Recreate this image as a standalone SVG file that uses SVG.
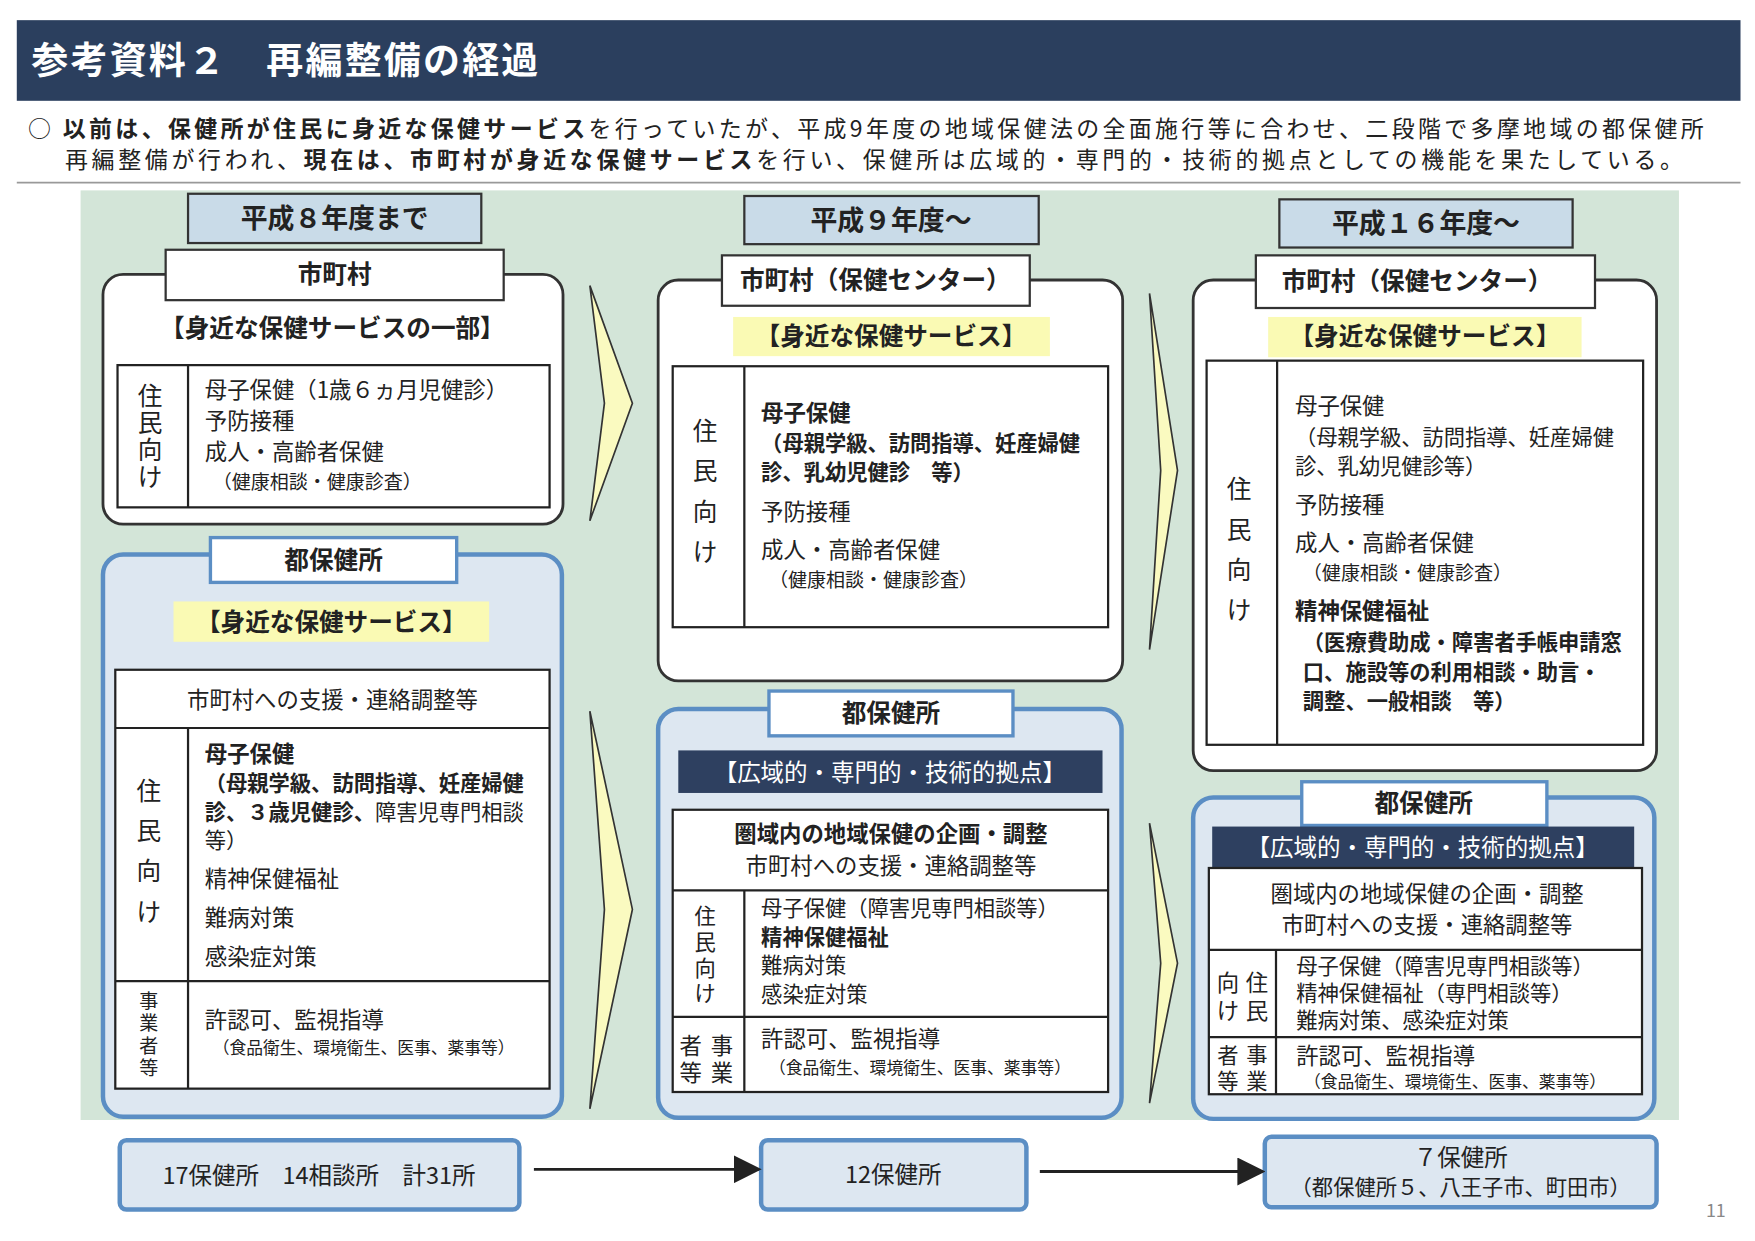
<svg xmlns="http://www.w3.org/2000/svg" width="1755" height="1241" viewBox="0 0 1755 1241">
<style>
text{font-family:"Noto Sans CJK JP","Noto Sans CJK SC",sans-serif;fill:#222}
.b{font-weight:bold}
.t{font-size:22px}
.s{font-size:15px}
.title{fill:#c9dbe8;stroke:#333;stroke-width:2}
.wbox{fill:#fff;stroke:#333;stroke-width:2.5}
.bbox{fill:#dde7f1;stroke:#5b8ec4;stroke-width:4}
.tab{fill:#fff;stroke:#333;stroke-width:2}
.btab{fill:#fff;stroke:#5b8ec4;stroke-width:3}
.tbl{fill:#fff;stroke:#222;stroke-width:2}
.ln{stroke:#222;stroke-width:2}
.yel{fill:#fafab4}
.dark{fill:#2e4060}
.chev{fill:#fafac0;stroke:#333;stroke-width:1.5}
.foot{fill:#dde7f1;stroke:#5b8ec4;stroke-width:4}
</style>
<defs><marker id="ah" markerWidth="10" markerHeight="10" refX="9" refY="5" orient="auto"><path d="M0,0 L10,5 L0,10z" fill="#222"/></marker></defs>
<rect width="1755" height="1241" fill="#fff"/>
<g transform="scale(1.1193,1.12)">
<g id="header">
<rect x="15" y="18" width="1540" height="72" fill="#2b3f5e"/>
<text x="28" y="66" font-size="33" letter-spacing="2" class="b" style="fill:#fff">参考資料２　再編整備の経過</text>
<text x="25" y="122" font-size="20.5" letter-spacing="3">○ <tspan class="b">以前は、保健所が住民に身近な保健サービス</tspan>を行っていたが、平成9年度の地域保健法の全面施行等に合わせ、二段階で多摩地域の都保健所</text>
<text x="58" y="150" font-size="20.5" letter-spacing="3.3">再編整備が行われ、<tspan class="b">現在は、市町村が身近な保健サービス</tspan>を行い、保健所は広域的・専門的・技術的拠点としての機能を果たしている。</text>
<line x1="15" y1="163" x2="1555" y2="163" stroke="#999" stroke-width="1.5"/>
</g>
<rect x="72" y="170" width="1428" height="830" fill="#d3e5d8"/>

<g id="arrows">
<path class="chev" d="M527,255 L565,360 L527,465 L540,360z"/>
<path class="chev" d="M527,635 L565,812 L527,990 L540,812z"/>
<path class="chev" d="M1027,262 L1052,420 L1027,580 L1037,420z"/>
<path class="chev" d="M1027,735 L1052,860 L1027,985 L1037,860z"/>
</g>

<g id="c1title"><rect class="title" x="168" y="173" width="262" height="44"/><text x="299" y="204" text-anchor="middle" font-size="24" class="b">平成８年度まで</text></g>
<g id="c1city">
<rect class="wbox" x="92" y="245" width="411" height="223" rx="18"/>
<rect class="tab" x="148" y="223" width="302" height="45"/><text x="299" y="253" text-anchor="middle" class="t b">市町村</text>
<text x="297" y="301" text-anchor="middle" class="t b">【身近な保健サービスの一部】</text>
<rect class="tbl" x="105" y="326" width="386" height="127"/><line class="ln" x1="168" y1="326" x2="168" y2="453"/>
<text x="134" y="362" text-anchor="middle" class="t">住</text><text x="134" y="386" text-anchor="middle" class="t">民</text><text x="134" y="410" text-anchor="middle" class="t">向</text><text x="134" y="434" text-anchor="middle" class="t">け</text>
<text x="183" y="355" font-size="20">母子保健（1歳６ヵ月児健診）</text>
<text x="183" y="383" font-size="20">予防接種</text>
<text x="183" y="411" font-size="20">成人・高齢者保健</text>
<text x="190" y="437" font-size="17">（健康相談・健康診査）</text>
</g>
<g id="c1pref">
<rect class="bbox" x="92" y="495" width="410" height="502" rx="18"/>
<rect class="btab" x="188" y="480" width="220" height="40"/><text x="298" y="508" text-anchor="middle" class="t b">都保健所</text>
<rect class="yel" x="155" y="537" width="282" height="36"/><text x="296" y="563" text-anchor="middle" class="t b">【身近な保健サービス】</text>
<rect class="tbl" x="103" y="598" width="388" height="374"/>
<line class="ln" x1="103" y1="650" x2="491" y2="650"/><line class="ln" x1="103" y1="876" x2="491" y2="876"/><line class="ln" x1="168" y1="650" x2="168" y2="972"/>
<text x="297" y="632" text-anchor="middle" font-size="20">市町村への支援・連絡調整等</text>
<text x="133" y="714" text-anchor="middle" class="t">住</text><text x="133" y="750" text-anchor="middle" class="t">民</text><text x="133" y="786" text-anchor="middle" class="t">向</text><text x="133" y="822" text-anchor="middle" class="t">け</text>
<text x="183" y="680" font-size="20" class="b">母子保健</text>
<text x="183" y="706" font-size="19"><tspan class="b">（母親学級、訪問指導、妊産婦健</tspan></text>
<text x="183" y="732" font-size="19"><tspan class="b">診、３歳児健診、</tspan>障害児専門相談</text>
<text x="183" y="757" font-size="19">等）</text>
<text x="183" y="792" font-size="20">精神保健福祉</text>
<text x="183" y="827" font-size="20">難病対策</text>
<text x="183" y="862" font-size="20">感染症対策</text>
<text x="133" y="900" text-anchor="middle" font-size="17">事</text><text x="133" y="920" text-anchor="middle" font-size="17">業</text><text x="133" y="940" text-anchor="middle" font-size="17">者</text><text x="133" y="960" text-anchor="middle" font-size="17">等</text>
<text x="183" y="918" font-size="20">許認可、監視指導</text>
<text x="190" y="941" class="s">（食品衛生、環境衛生、医事、薬事等）</text>
</g>

<g id="c2title"><rect class="title" x="665" y="175" width="263" height="43"/><text x="796" y="205" text-anchor="middle" font-size="24" class="b">平成９年度～</text></g>
<g id="c2city">
<rect class="wbox" x="588" y="250" width="415" height="358" rx="18"/>
<rect class="tab" x="645" y="228" width="275" height="45"/><text x="782" y="258" text-anchor="middle" class="t b">市町村（保健センター）</text>
<rect class="yel" x="655" y="283" width="283" height="35"/><text x="796" y="308" text-anchor="middle" class="t b">【身近な保健サービス】</text>
<rect class="tbl" x="601" y="327" width="389" height="233"/><line class="ln" x1="665" y1="327" x2="665" y2="560"/>
<text x="630" y="393" text-anchor="middle" class="t">住</text><text x="630" y="429" text-anchor="middle" class="t">民</text><text x="630" y="465" text-anchor="middle" class="t">向</text><text x="630" y="501" text-anchor="middle" class="t">け</text>
<text x="680" y="376" font-size="20" class="b">母子保健</text>
<text x="680" y="403" font-size="19" class="b">（母親学級、訪問指導、妊産婦健</text>
<text x="680" y="429" font-size="19" class="b">診、乳幼児健診　等）</text>
<text x="680" y="464" font-size="20">予防接種</text>
<text x="680" y="498" font-size="20">成人・高齢者保健</text>
<text x="687" y="524" font-size="17">（健康相談・健康診査）</text>
</g>
<g id="c2pref">
<rect class="bbox" x="588" y="633" width="414" height="365" rx="18"/>
<rect class="btab" x="687" y="617" width="218" height="40"/><text x="796" y="645" text-anchor="middle" class="t b">都保健所</text>
<rect class="dark" x="606" y="670" width="379" height="38"/><text x="795" y="697" text-anchor="middle" font-size="21" style="fill:#fff">【広域的・専門的・技術的拠点】</text>
<rect class="tbl" x="601" y="723" width="389" height="252"/>
<line class="ln" x1="601" y1="795" x2="990" y2="795"/><line class="ln" x1="601" y1="908" x2="990" y2="908"/><line class="ln" x1="665" y1="795" x2="665" y2="975"/>
<text x="796" y="752" text-anchor="middle" font-size="20" class="b">圏域内の地域保健の企画・調整</text>
<text x="796" y="780" text-anchor="middle" font-size="20">市町村への支援・連絡調整等</text>
<text x="630" y="825" text-anchor="middle" font-size="19">住</text><text x="630" y="848" text-anchor="middle" font-size="19">民</text><text x="630" y="871" text-anchor="middle" font-size="19">向</text><text x="630" y="894" text-anchor="middle" font-size="19">け</text>
<text x="680" y="818" font-size="19">母子保健（障害児専門相談等）</text>
<text x="680" y="844" font-size="19" class="b">精神保健福祉</text>
<text x="680" y="869" font-size="19">難病対策</text>
<text x="680" y="895" font-size="19">感染症対策</text>
<text x="645" y="941" text-anchor="middle" font-size="20">事</text><text x="617" y="941" text-anchor="middle" font-size="20">者</text>
<text x="645" y="965" text-anchor="middle" font-size="20">業</text><text x="617" y="965" text-anchor="middle" font-size="20">等</text>
<text x="680" y="935" font-size="20">許認可、監視指導</text>
<text x="687" y="959" class="s">（食品衛生、環境衛生、医事、薬事等）</text>
</g>

<g id="c3title"><rect class="title" x="1143" y="178" width="262" height="43"/><text x="1274" y="208" text-anchor="middle" font-size="24" class="b">平成１６年度～</text></g>
<g id="c3city">
<rect class="wbox" x="1066" y="250" width="414" height="438" rx="18"/>
<rect class="tab" x="1122" y="228" width="303" height="47"/><text x="1266" y="259" text-anchor="middle" class="t b">市町村（保健センター）</text>
<rect class="yel" x="1133" y="283" width="280" height="36"/><text x="1273" y="308" text-anchor="middle" class="t b">【身近な保健サービス】</text>
<rect class="tbl" x="1078" y="322" width="390" height="343"/><line class="ln" x1="1141" y1="322" x2="1141" y2="665"/>
<text x="1107" y="445" text-anchor="middle" class="t">住</text><text x="1107" y="481" text-anchor="middle" class="t">民</text><text x="1107" y="517" text-anchor="middle" class="t">向</text><text x="1107" y="553" text-anchor="middle" class="t">け</text>
<text x="1157" y="370" font-size="20">母子保健</text>
<text x="1157" y="397" font-size="19">（母親学級、訪問指導、妊産婦健</text>
<text x="1157" y="423" font-size="19">診、乳幼児健診等）</text>
<text x="1157" y="458" font-size="20">予防接種</text>
<text x="1157" y="492" font-size="20">成人・高齢者保健</text>
<text x="1164" y="518" font-size="17">（健康相談・健康診査）</text>
<text x="1157" y="553" font-size="20" class="b">精神保健福祉</text>
<text x="1164" y="580" font-size="19" class="b">（医療費助成・障害者手帳申請窓</text>
<text x="1164" y="607" font-size="19" class="b">口、施設等の利用相談・助言・</text>
<text x="1164" y="633" font-size="19" class="b">調整、一般相談　等）</text>
</g>
<g id="c3pref">
<rect class="bbox" x="1066" y="712" width="412" height="287" rx="18"/>
<rect class="btab" x="1163" y="698" width="219" height="39"/><text x="1272" y="725" text-anchor="middle" class="t b">都保健所</text>
<rect class="dark" x="1083" y="738" width="377" height="37"/><text x="1271" y="764" text-anchor="middle" font-size="21" style="fill:#fff">【広域的・専門的・技術的拠点】</text>
<rect class="tbl" x="1080" y="775" width="387" height="202"/>
<line class="ln" x1="1080" y1="848" x2="1467" y2="848"/><line class="ln" x1="1080" y1="926" x2="1467" y2="926"/><line class="ln" x1="1140" y1="848" x2="1140" y2="977"/>
<text x="1275" y="805" text-anchor="middle" font-size="20">圏域内の地域保健の企画・調整</text>
<text x="1275" y="833" text-anchor="middle" font-size="20">市町村への支援・連絡調整等</text>
<text x="1123" y="885" text-anchor="middle" font-size="20">住</text><text x="1097" y="885" text-anchor="middle" font-size="20">向</text>
<text x="1123" y="910" text-anchor="middle" font-size="20">民</text><text x="1097" y="910" text-anchor="middle" font-size="20">け</text>
<text x="1158" y="870" font-size="19">母子保健（障害児専門相談等）</text>
<text x="1158" y="894" font-size="19">精神保健福祉（専門相談等）</text>
<text x="1158" y="918" font-size="19">難病対策、感染症対策</text>
<text x="1123" y="949" text-anchor="middle" font-size="19">事</text><text x="1097" y="949" text-anchor="middle" font-size="19">者</text>
<text x="1123" y="972" text-anchor="middle" font-size="19">業</text><text x="1097" y="972" text-anchor="middle" font-size="19">等</text>
<text x="1158" y="950" font-size="20">許認可、監視指導</text>
<text x="1165" y="971" class="s">（食品衛生、環境衛生、医事、薬事等）</text>
</g>

<g id="f1"><rect class="foot" x="107" y="1018" width="357" height="62" rx="6"/><text x="285" y="1057" text-anchor="middle" font-size="21">17保健所　14相談所　計31所</text></g>
<g id="f2"><rect class="foot" x="680" y="1018" width="237" height="62" rx="6"/><text x="798" y="1056" text-anchor="middle" font-size="21">12保健所</text></g>
<g id="f3"><rect class="foot" x="1130" y="1015" width="350" height="63" rx="6"/><text x="1305" y="1041" text-anchor="middle" font-size="21">７保健所</text><text x="1305" y="1067" text-anchor="middle" font-size="19">（都保健所５、八王子市、町田市）</text></g>
<g id="connectors">
<line x1="477" y1="1044" x2="678" y2="1044" stroke="#222" stroke-width="2.5" marker-end="url(#ah)"/>
<line x1="929" y1="1046" x2="1128" y2="1046" stroke="#222" stroke-width="2.5" marker-end="url(#ah)"/>
</g>
<text x="1533" y="1087" text-anchor="middle" font-size="16" style="fill:#888">11</text>
</g>
</svg>
